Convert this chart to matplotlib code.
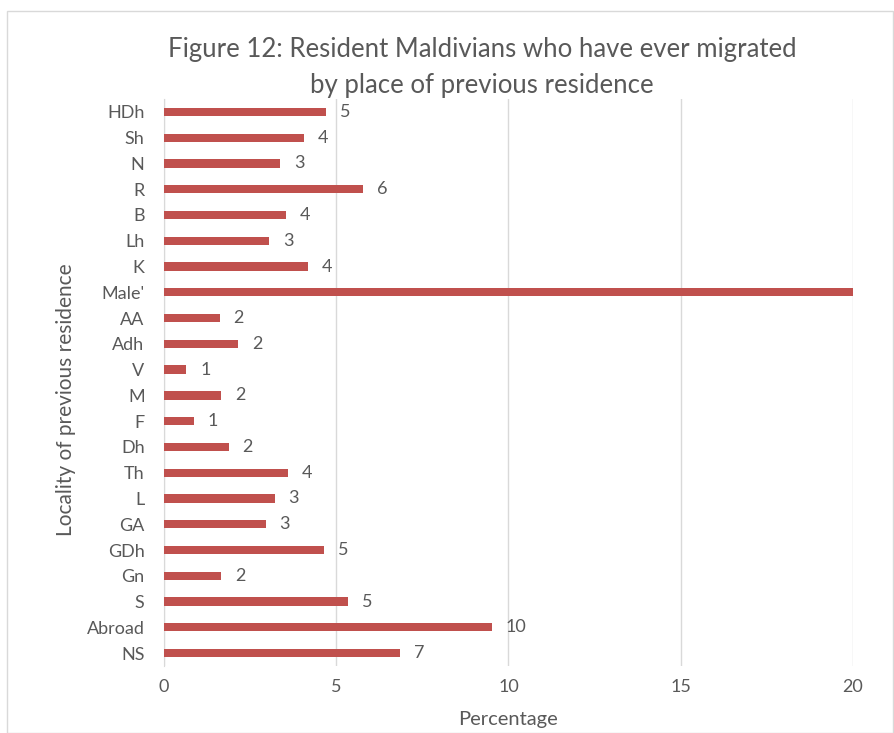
import numpy as np
import matplotlib.pyplot as plt
from matplotlib.patches import Rectangle

plt.rcParams['font.family'] = ['Lato', 'DejaVu Sans']

places = ["HDh", "Sh", "N", "R", "B", "Lh", "K", "Male'", "AA", "Adh", "V",
          "M", "F", "Dh", "Th", "L", "GA", "GDh", "Gn", "S", "Abroad", "NS"]
percent = [4.71, 4.06, 3.38, 5.77, 3.54, 3.06, 4.18, 30.0, 1.62, 2.15, 0.65,
           1.66, 0.86, 1.88, 3.59, 3.21, 2.95, 4.65, 1.66, 5.35, 9.52, 6.85]
xticks = [0, 5, 10, 15, 20]

grey = '#595959'
bar_col = '#C0504D'

fig = plt.figure(figsize=(8.95, 7.33), dpi=100)
# outer chart border
fig.patches.append(Rectangle((7 / 895, 0), 886 / 895, 722 / 733, transform=fig.transFigure,
                             fill=False, edgecolor='#D9D9D9', lw=1))
ax = fig.add_axes([164 / 895, 1 - 666 / 733, (853 - 164) / 895, (666 - 99) / 733])

y = np.arange(len(places))
ax.barh(y, percent, height=0.32, color=bar_col, zorder=3)
for yi, v in zip(y, percent):
    if v <= xticks[-1]:
        ax.text(v + 0.4, yi, "{:.0f}".format(v), va='center', ha='left',
                fontsize=13, color=grey)

ax.set_ylim(len(places) - 0.5, -0.5)
ax.set_xlim(0, 20)
ax.set_yticks(y)
ax.set_yticklabels(places)
ax.set_xticks(xticks)
ax.grid(axis='x', color='#D9D9D9', lw=1, zorder=0)
for s in ['top', 'right', 'bottom']:
    ax.spines[s].set_visible(False)
ax.spines['left'].set_color('#D9D9D9')
ax.tick_params(length=0, labelsize=13, labelcolor=grey)
ax.tick_params(axis='x', pad=9)
ax.tick_params(axis='y', pad=14)

ax.set_xlabel("Percentage", fontsize=14.5, color=grey, labelpad=12)
ax.set_ylabel("Locality of previous residence", fontsize=15, color=grey)
ax.yaxis.set_label_coords(-0.128, 0.47)
fig.text(482 / 895, 1 - 67 / 733,
         "Figure 12: Resident Maldivians who have ever migrated\nby place of previous residence",
         ha='center', va='center', fontsize=18.5, color=grey, linespacing=1.55)

plt.savefig("out.png", dpi=100)
